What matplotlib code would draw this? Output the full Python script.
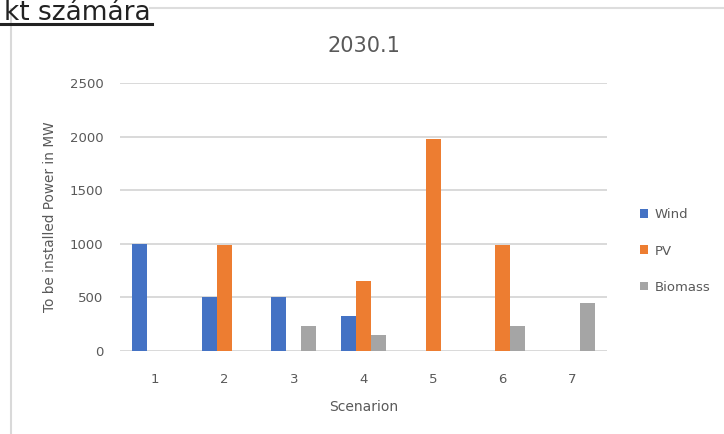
import matplotlib
matplotlib.use("Agg")
import matplotlib.pyplot as plt
from matplotlib.lines import Line2D
import numpy as np

scenarios = ["1", "2", "3", "4", "5", "6", "7"]
wind = [1000, 500, 500, 330, 0, 0, 0]
pv = [0, 990, 0, 650, 1980, 990, 0]
biomass = [0, 0, 230, 150, 0, 230, 450]
series_names = ["Wind", "PV", "Biomass"]
series_colors = ["#4472C4", "#ED7D31", "#A5A5A5"]
y_ticks = [0, 500, 1000, 1500, 2000, 2500]

W, H = 724, 434
fig = plt.figure(figsize=(W / 100, H / 100), dpi=100)
fig.patch.set_facecolor("white")

ax = fig.add_axes([120 / W, 1 - 351 / H, (607 - 120) / W, (351 - 83) / H])
x = np.arange(len(scenarios))
bw = 0.215
for i, (vals, name, col) in enumerate(zip([wind, pv, biomass], series_names, series_colors)):
    ax.bar(x + (i - 1) * bw, vals, width=bw, color=col, label=name, zorder=3)

ax.set_xlim(-0.5, len(scenarios) - 0.5)
ax.set_ylim(0, 2500)
ax.set_yticks(y_ticks)
ax.set_xticks(x)
ax.set_xticklabels(scenarios)
ax.grid(axis="y", color="#D9D9D9", linewidth=1.4, zorder=0)
for s in ax.spines.values():
    s.set_visible(False)
ax.tick_params(axis="both", length=0, colors="#595959", labelsize=9.5)
ax.tick_params(axis="x", pad=16)
ax.tick_params(axis="y", pad=12)

ax.set_title("2030.1", fontsize=15, color="#595959", pad=22)
ax.set_xlabel("Scenarion", fontsize=10, color="#595959", labelpad=10)
ax.set_ylabel("To be installed Power in MW", fontsize=9.8, color="#595959", labelpad=9)

leg = ax.legend(loc="center left", bbox_to_anchor=(1.043, 0.373), frameon=False,
                fontsize=9.5, labelcolor="#595959", handlelength=0.65, handleheight=0.65,
                handletextpad=0.45, labelspacing=1.75)

# page frame lines and heading fragment
fig.add_artist(Line2D([11 / W, 11 / W], [0, 1 - 9 / H], color="#D9D9D9", linewidth=1.5))
fig.add_artist(Line2D([150 / W, 1], [1 - 8 / H, 1 - 8 / H], color="#DDDDDD", linewidth=1.5))
fig.text(151 / W, 1 - 19.5 / H, "kt számára", ha="right", va="baseline",
         fontsize=19, color="#222222", fontweight="medium")
fig.add_artist(Line2D([0, 152 / W], [1 - 23.5 / H, 1 - 23.5 / H], color="#222222", linewidth=2.2))

fig.savefig("out.png", dpi=100)
